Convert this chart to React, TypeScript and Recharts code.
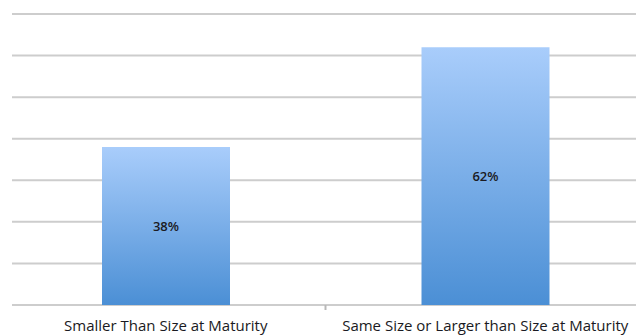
import { BarChart, Bar, XAxis, YAxis, CartesianGrid, LabelList } from "recharts";

const categories = [
  "Smaller Than Size at Maturity",
  "Same Size or Larger than Size at Maturity",
];
const shares = [38, 62];
const yTicks = [0, 10, 20, 30, 40, 50, 60, 70];

const data = categories.map((name, i) => ({ name, share: shares[i] }));

const font = "'Open Sans', sans-serif";

// tick between the two categories, just under the baseline
const separatorPoints = ({ offset }: { offset: { left: number; width: number } }) => [
  offset.left + offset.width / 2,
];

export default function App() {
  return (
    <div
      style={{
        position: "absolute",
        left: 0,
        top: 0,
        width: 636,
        height: 335,
        overflow: "hidden",
        background: "#ffffff",
      }}
    >
      <BarChart
        width={660}
        height={335}
        data={data}
        margin={{ top: 14, right: 15, bottom: 0, left: 6 }}
        barSize={128}
      >
        <defs>
          <linearGradient id="barFill" x1="0" y1="0" x2="0" y2="1">
            <stop offset="0%" stopColor="#a9cdfb" />
            <stop offset="100%" stopColor="#4b8fd5" />
          </linearGradient>
        </defs>
        <CartesianGrid
          x={12}
          width={648}
          vertical={false}
          stroke="#cdcdcd"
          strokeWidth={2}
        />
        <CartesianGrid
          y={305}
          height={5}
          horizontal={false}
          verticalCoordinatesGenerator={separatorPoints}
          stroke="#b8b8b8"
          strokeWidth={2}
        />
        <XAxis
          dataKey="name"
          height={30}
          axisLine={false}
          tickLine={false}
          tickMargin={9}
          interval={0}
          tick={{ fill: "#1a1a22", fontSize: 15, fontFamily: font }}
        />
        <YAxis hide domain={[0, 70]} ticks={yTicks} />
        <Bar dataKey="share" fill="url(#barFill)" isAnimationActive={false}>
          <LabelList
            dataKey="share"
            position="center"
            formatter={(v: number) => `${v}%`}
            style={{
              fill: "#1a1a22",
              fontSize: 13,
              fontWeight: 600,
              fontFamily: font,
            }}
          />
        </Bar>
      </BarChart>
    </div>
  );
}
